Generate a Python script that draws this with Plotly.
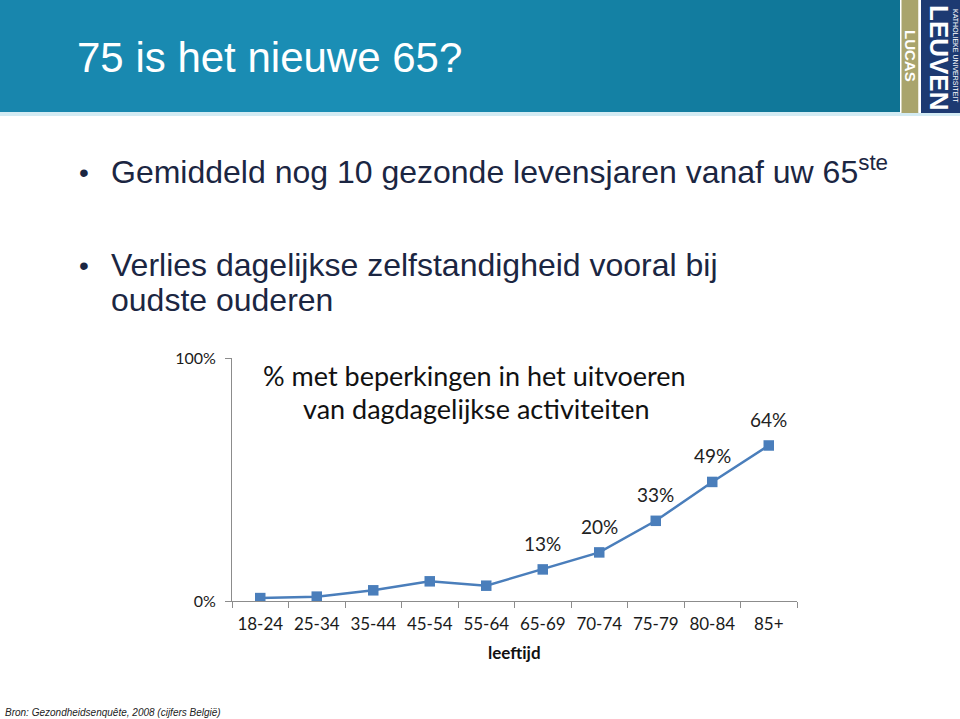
import plotly.graph_objects as go
import numpy as np

# ---- data ----
age_groups = ["18-24", "25-34", "35-44", "45-54", "55-64", "65-69", "70-74", "75-79", "80-84", "85+"]
pct_limited = [1.2, 1.8, 4.4, 8.1, 6.3, 13, 20, 33, 49, 64]
labelled = [False, False, False, False, False, True, True, True, True, True]
y_tickvals = [0, 100]
y_ticktext = ["0%", "100%"]

W, H = 960, 719
def px(x):
    return x / W
def py(y):
    return 1 - y / H

fig = go.Figure()

fig.add_trace(go.Scatter(
    x=age_groups, y=pct_limited, mode="lines+markers",
    line=dict(color="#4a7ebb", width=2.5),
    marker=dict(symbol="square", size=10.5, color="#4a7ebb"),
    hoverinfo="skip", showlegend=False,
))

shapes = []
stops_x = [0, 350, 900]
stops_c = [(24, 134, 173), (27, 143, 182), (14, 114, 146)]
n = 90
for i in range(n):
    x0 = i * 900 / n
    x1 = (i + 1) * 900 / n + 0.6
    xm = (x0 + x1) / 2
    c = [int(np.interp(xm, stops_x, [s[k] for s in stops_c])) for k in range(3)]
    shapes.append(dict(type="rect", xref="paper", yref="paper",
                       x0=px(x0), x1=px(min(x1, 900)), y0=py(112), y1=1,
                       fillcolor=f"rgb({c[0]},{c[1]},{c[2]})", line=dict(width=0), layer="below"))
shapes.append(dict(type="rect", xref="paper", yref="paper", x0=0, x1=1, y0=py(116), y1=py(112),
                   fillcolor="#d3ebf3", line=dict(width=0), layer="below"))
shapes.append(dict(type="rect", xref="paper", yref="paper", x0=px(900), x1=px(901.5), y0=py(113), y1=1,
                   fillcolor="#ffffff", line=dict(width=0), layer="below"))
shapes.append(dict(type="rect", xref="paper", yref="paper", x0=px(901.5), x1=px(918.5), y0=py(113), y1=1,
                   fillcolor="#a9a46c", line=dict(width=0), layer="below"))
shapes.append(dict(type="rect", xref="paper", yref="paper", x0=px(918.5), x1=px(921), y0=py(113), y1=1,
                   fillcolor="#ffffff", line=dict(width=0), layer="below"))
shapes.append(dict(type="rect", xref="paper", yref="paper", x0=px(921), x1=1, y0=py(113), y1=1,
                   fillcolor="#1d3a72", line=dict(width=0), layer="below"))

annotations = []
annotations.append(dict(text="75 is het nieuwe 65?", x=px(75), y=py(57), xref="paper", yref="paper",
                        xanchor="left", yanchor="middle", showarrow=False,
                        font=dict(family="Liberation Sans", size=42, color="#ffffff")))
annotations.append(dict(text="<b>LUCAS</b>", x=px(910), y=py(56), xref="paper", yref="paper",
                        xanchor="center", yanchor="middle", showarrow=False, textangle=90, borderpad=0,
                        font=dict(family="Liberation Sans", size=15, color="#ffffff")))
annotations.append(dict(text="<b>LEUVEN</b>", x=px(939), y=py(57), xref="paper", yref="paper",
                        xanchor="center", yanchor="middle", showarrow=False, textangle=90, borderpad=0,
                        font=dict(family="Liberation Sans", size=26, color="#ffffff")))
annotations.append(dict(text="KATHOLIEKE UNIVERSITEIT", x=px(955), y=py(56), xref="paper", yref="paper",
                        xanchor="center", yanchor="middle", showarrow=False, textangle=90, borderpad=0,
                        font=dict(family="Liberation Sans", size=7, color="#ffffff")))
text_col = "#1b2642"
bullet_font = dict(family="Liberation Sans", size=32, color=text_col)
for by in [172, 265]:
    annotations.append(dict(text="•", x=px(77), y=py(by), xref="paper", yref="paper",
                            xanchor="left", yanchor="middle", showarrow=False,
                            font=dict(family="Liberation Sans", size=28, color=text_col)))
annotations.append(dict(text="Gemiddeld nog 10 gezonde levensjaren vanaf uw 65<sup>ste</sup>",
                        x=px(109), y=py(170), xref="paper", yref="paper",
                        xanchor="left", yanchor="middle", showarrow=False, font=bullet_font))
annotations.append(dict(text="Verlies dagelijkse zelfstandigheid vooral bij",
                        x=px(109), y=py(265), xref="paper", yref="paper",
                        xanchor="left", yanchor="middle", showarrow=False, font=bullet_font))
annotations.append(dict(text="oudste ouderen",
                        x=px(109), y=py(300), xref="paper", yref="paper",
                        xanchor="left", yanchor="middle", showarrow=False, font=bullet_font))
chart_font = "Lato"
annotations.append(dict(text="% met beperkingen in het uitvoeren",
                        x=px(474), y=py(375), xref="paper", yref="paper",
                        xanchor="center", yanchor="middle", showarrow=False,
                        font=dict(family=chart_font, size=27, color="#111111")))
annotations.append(dict(text="van dagdagelijkse activiteiten",
                        x=px(476), y=py(408), xref="paper", yref="paper",
                        xanchor="center", yanchor="middle", showarrow=False,
                        font=dict(family=chart_font, size=27, color="#111111")))
for cat, v, lab in zip(age_groups, pct_limited, labelled):
    if lab:
        annotations.append(dict(text=f"{v:.0f}%", x=cat, y=v, xref="x", yref="y",
                                showarrow=False, yshift=26,
                                font=dict(family=chart_font, size=19, color="#222222")))
annotations.append(dict(text="<b>leeftijd</b>", x=px(514), y=py(652), xref="paper", yref="paper",
                        xanchor="center", yanchor="middle", showarrow=False,
                        font=dict(family=chart_font, size=17, color="#111111")))
annotations.append(dict(text="<i>Bron: Gezondheidsenquête, 2008 (cijfers België)</i>",
                        x=px(4), y=py(712), xref="paper", yref="paper",
                        xanchor="left", yanchor="middle", showarrow=False, borderpad=0,
                        font=dict(family="Liberation Sans", size=10, color="#222222")))

fig.update_layout(
    width=W, height=H, margin=dict(l=0, r=0, t=0, b=0, autoexpand=False),
    paper_bgcolor="#ffffff", plot_bgcolor="#ffffff",
    shapes=shapes, annotations=annotations, showlegend=False,
    xaxis=dict(domain=[px(232), px(797)], type="category", range=[-0.5, 9.5], automargin=False,
               showline=True, linecolor="#8c8c8c", linewidth=1,
               ticks="outside", tickson="boundaries", ticklen=6, tickcolor="#8c8c8c",
               showgrid=False, zeroline=False, ticklabelstandoff=8,
               tickfont=dict(family=chart_font, size=17, color="#1a1a1a")),
    yaxis=dict(domain=[py(601), py(358)], range=[0, 100], automargin=False,
               tickvals=y_tickvals, ticktext=y_ticktext,
               showline=True, linecolor="#8c8c8c", linewidth=1,
               ticks="outside", ticklen=6, tickcolor="#8c8c8c",
               showgrid=False, zeroline=False, ticklabelstandoff=6,
               tickfont=dict(family=chart_font, size=16, color="#1a1a1a")),
)

fig.write_html("out.html")
